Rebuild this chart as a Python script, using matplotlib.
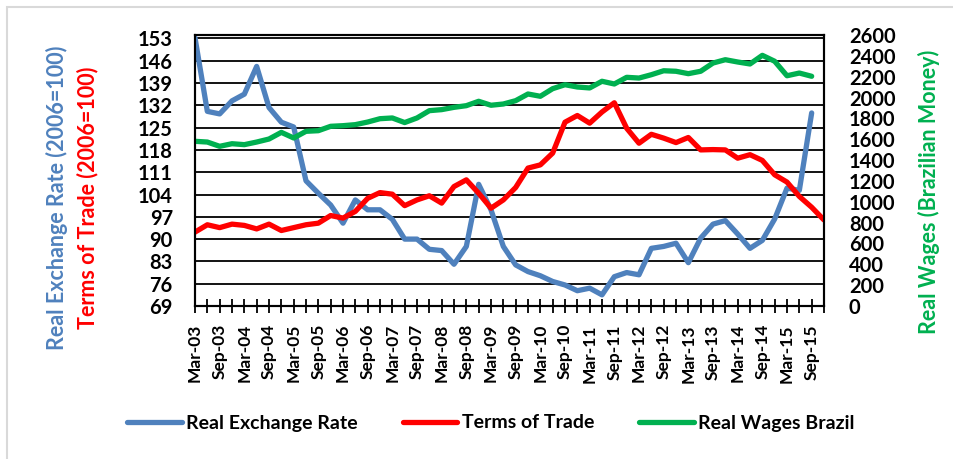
import matplotlib
matplotlib.use('Agg')
import matplotlib.pyplot as plt
from matplotlib.patches import Rectangle

plt.rcParams['font.family'] = ['Lato', 'DejaVu Sans']
plt.rcParams['font.weight'] = 'bold'

# quarterly, Mar-03 .. Dec-15
months = ['Mar', 'Jun', 'Sep', 'Dec']
quarters = ['%s-%02d' % (m, y) for y in range(3, 16) for m in months]

real_exchange_rate = [153.2, 130.1, 129.3, 133.4, 135.5, 144.2, 131.3, 126.7, 125.2, 108.3,
                      104.4, 100.7, 95.0, 102.3, 99.2, 99.2, 96.2, 90.0, 90.0, 86.8,
                      86.4, 82.1, 87.7, 107.2, 99.2, 87.7, 81.9, 79.8, 78.5, 76.7,
                      75.6, 73.8, 74.6, 72.5, 78.2, 79.5, 78.8, 87.1, 87.7, 88.7,
                      82.6, 90.3, 94.7, 95.8, 91.6, 87.1, 89.6, 96.3, 106.0, 105.3,
                      129.6]

terms_of_trade = [92.2, 94.5, 93.6, 94.7, 94.3, 93.2, 94.7, 92.7, 93.6, 94.5,
                  95.0, 97.4, 96.6, 98.7, 102.8, 104.6, 104.1, 100.5, 102.3, 103.6,
                  101.3, 106.5, 108.6, 104.4, 99.7, 102.3, 106.2, 112.3, 113.3, 117.0,
                  126.7, 128.8, 126.4, 129.9, 132.8, 124.8, 120.1, 122.9, 121.7, 120.3,
                  121.9, 118.0, 118.1, 118.0, 115.4, 116.5, 114.7, 110.2, 107.9, 103.4,
                  100.0, 96.0]

real_wages = [1580, 1573, 1532, 1557, 1548, 1573, 1602, 1666, 1612, 1676,
              1682, 1724, 1730, 1740, 1765, 1797, 1804, 1760, 1804, 1874,
              1884, 1906, 1922, 1964, 1926, 1938, 1970, 2034, 2012, 2085,
              2123, 2101, 2092, 2156, 2130, 2194, 2187, 2219, 2257, 2252,
              2229, 2252, 2331, 2363, 2341, 2322, 2405, 2348, 2209, 2235,
              2204]

left_ticks = list(range(69, 154, 7))
right_ticks = list(range(0, 2601, 200))

blue = '#4F81BD'
red = '#FF0000'
green = '#00B050'

fig = plt.figure(figsize=(9.54, 4.59), dpi=100)
ax = fig.add_axes([195/954., 1 - 306/459., 629/954., 271/459.])
ax2 = ax.twinx()

x = list(range(len(quarters)))
l1, = ax.plot(x[:len(real_exchange_rate)], real_exchange_rate, color=blue, lw=3.8,
              solid_capstyle='round', label='Real Exchange Rate', zorder=3)
l2, = ax.plot(x[:len(terms_of_trade)], terms_of_trade, color=red, lw=3.8,
              solid_capstyle='round', label='Terms of Trade', zorder=3)
l3, = ax2.plot(x[:len(real_wages)], real_wages, color=green, lw=3.8,
               solid_capstyle='round', label='Real Wages Brazil')

ax.set_xlim(0, len(quarters) - 1)
ax.set_ylim(69, 154.07)
ax2.set_ylim(0, 2600)
ax.set_yticks(left_ticks)
ax2.set_yticks(right_ticks)
ax.grid(axis='y', color='black', lw=1.3)
ax.set_axisbelow(True)

ax.set_xticks(x)
ax.set_xticklabels([q if i % 2 == 0 else '' for i, q in enumerate(quarters)],
                   rotation=90, fontsize=12.5, fontweight='bold')
ax.tick_params(axis='x', direction='inout', length=10, width=1.3, pad=8)
ax.tick_params(axis='y', length=0, pad=16, labelsize=14.5)
ax2.tick_params(axis='y', length=0, pad=18, labelsize=14.5)
for lab in ax.get_yticklabels() + ax2.get_yticklabels():
    lab.set_fontweight('bold')

for a in (ax, ax2):
    for s in a.spines.values():
        s.set_color('black')
        s.set_linewidth(1.5)

fig.text(57/954., 1 - 198/459., 'Real Exchange Rate (2006=100)', rotation=90,
         color=blue, fontsize=15.5, fontweight='bold', ha='center', va='center')
fig.text(88/954., 1 - 198/459., 'Terms of Trade (2006=100)', rotation=90,
         color=red, fontsize=15.5, fontweight='bold', ha='center', va='center')
fig.text(929/954., 1 - 192/459., 'Real Wages (Brazilian Money)', rotation=90,
         color=green, fontsize=15.5, fontweight='bold', ha='center', va='center')

fig.legend(handles=[l1, l2, l3], loc='center', bbox_to_anchor=(491/954., 1 - 423/459.),
           ncol=3, frameon=False, handlelength=2.8, handletextpad=0.25,
           columnspacing=2.3, prop={'weight': 'bold', 'size': 14})

fig.patches.append(Rectangle((7/954., -0.1), 1.2, 1 - 7/459. + 0.1, transform=fig.transFigure,
                             fill=False, edgecolor='#D9D9D9', lw=1.5))

fig.savefig('out.png', dpi=100)
